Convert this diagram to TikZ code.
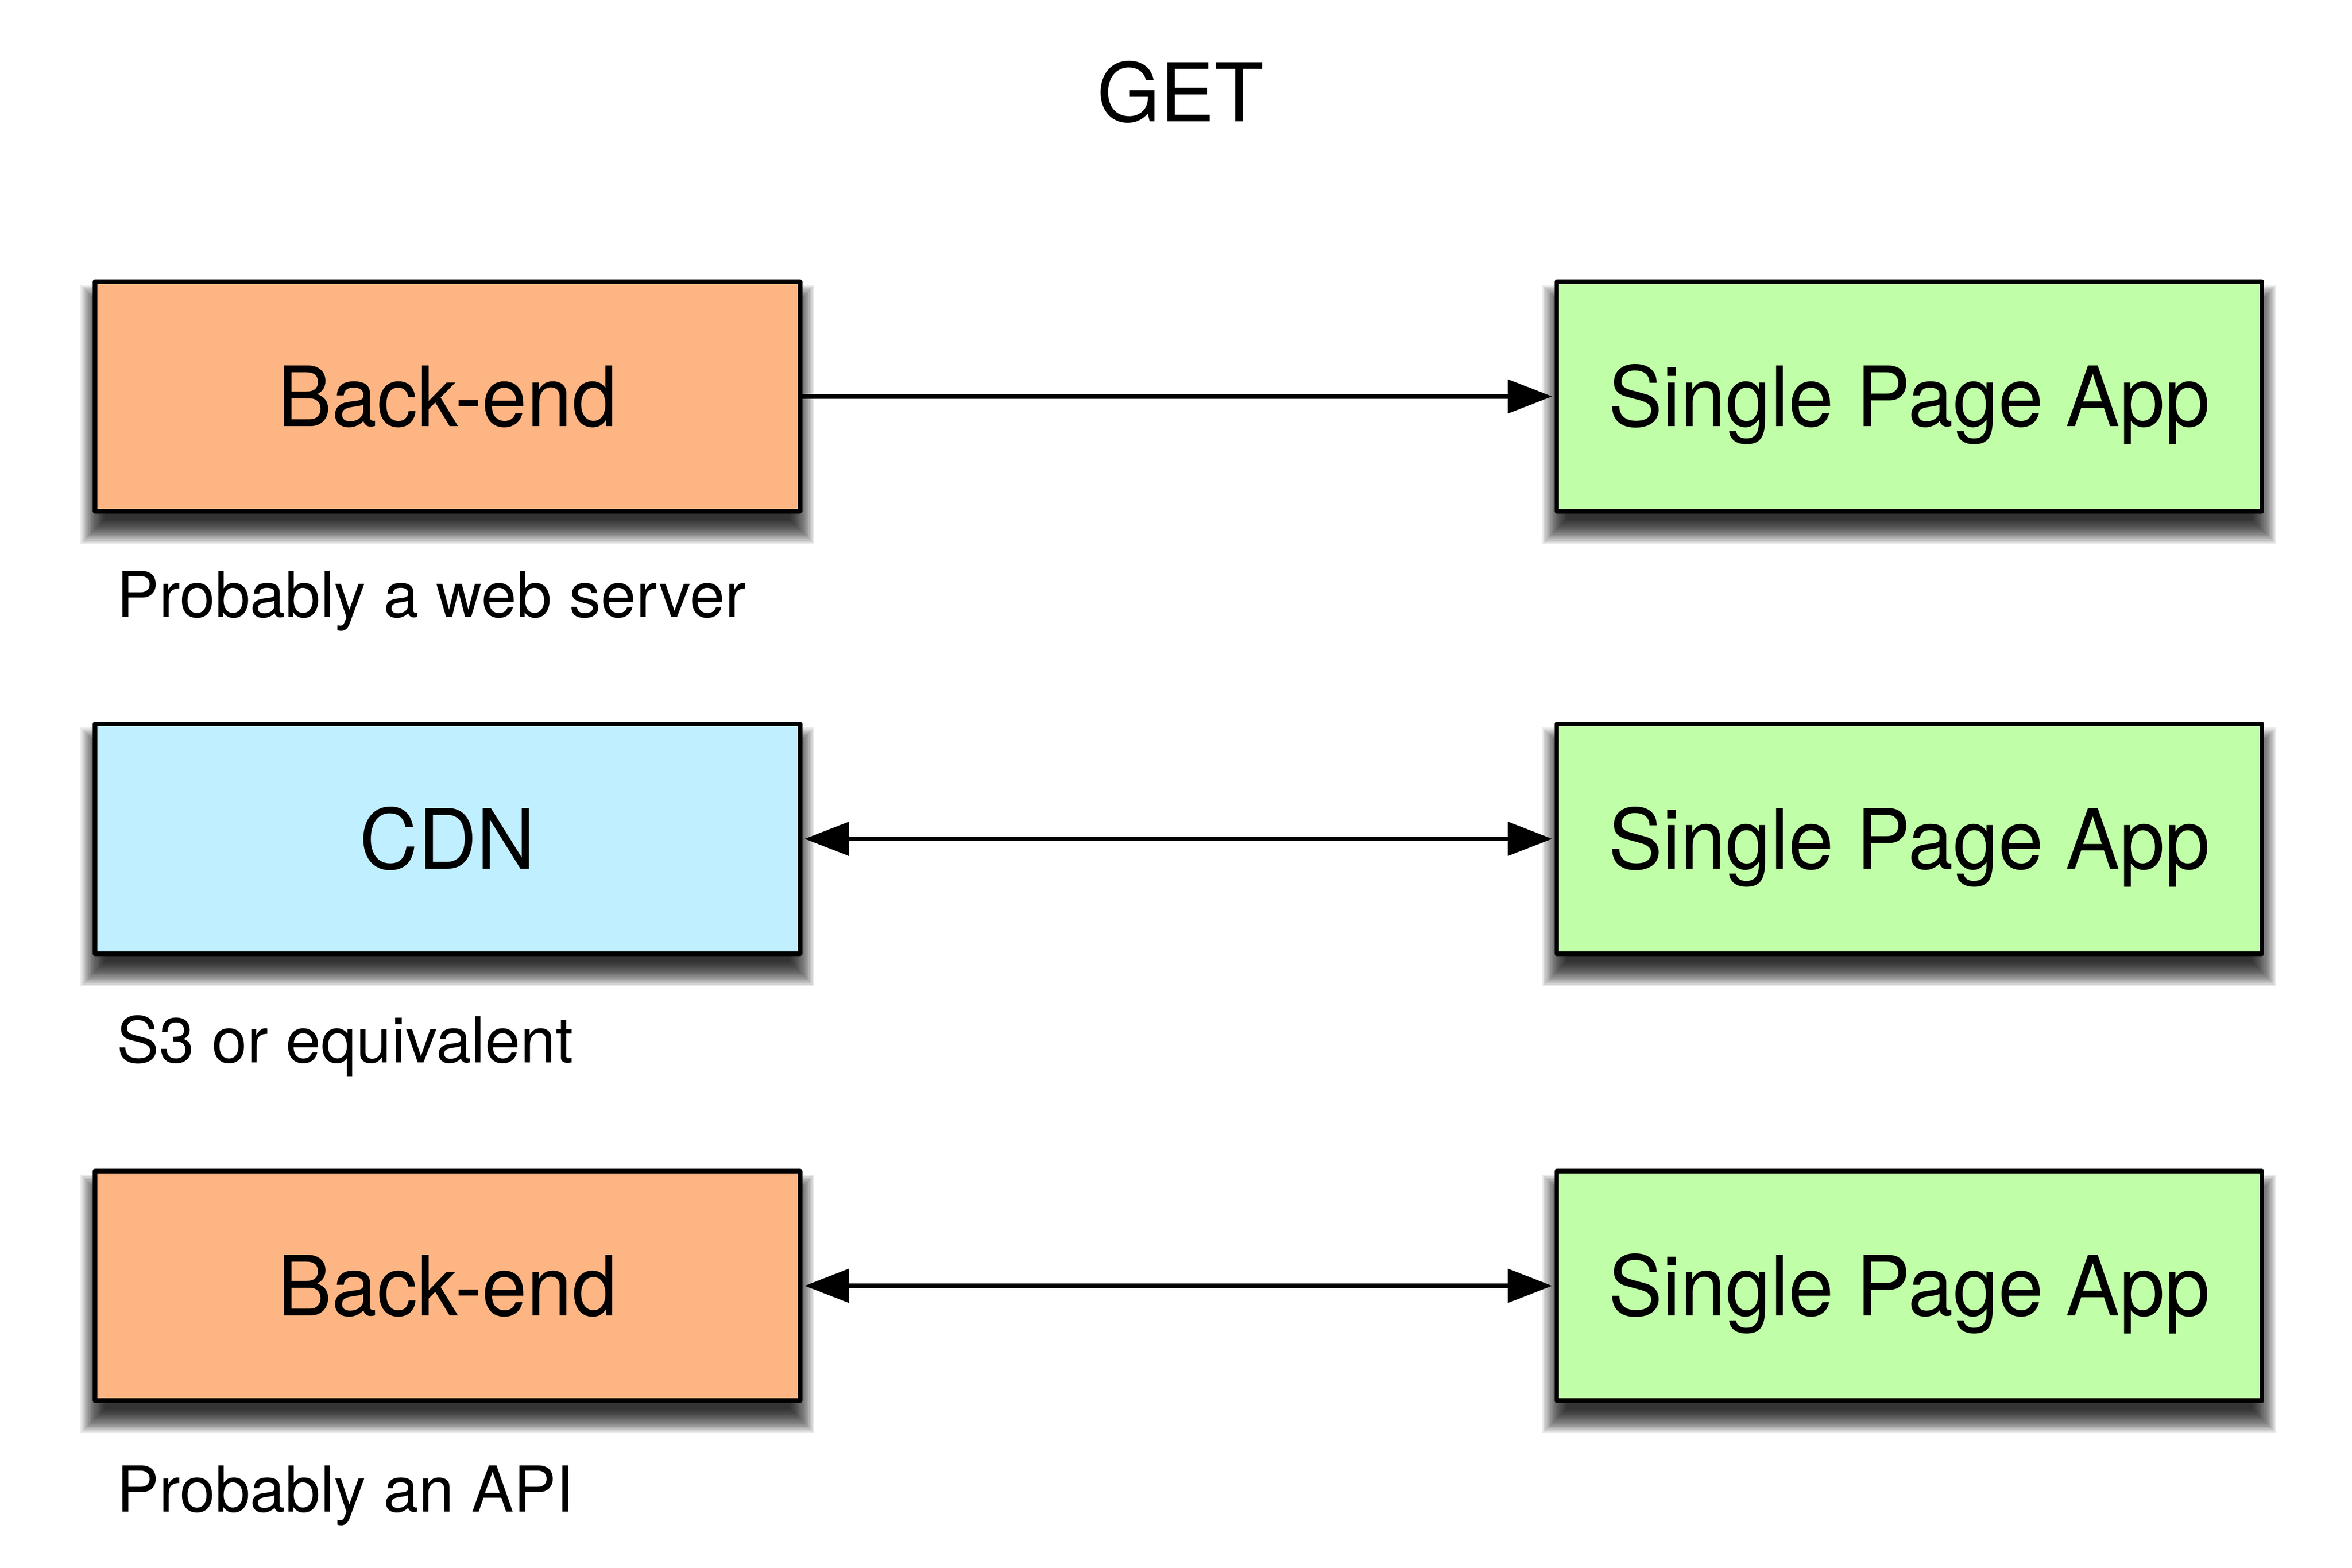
\documentclass[tikz,border=0pt]{standalone}
\usepackage{fontspec}
\setmainfont{TeX Gyre Heros}
\newfontfamily\boxfont{TeX Gyre Heros}[FakeStretch=0.975]
\usetikzlibrary{arrows.meta,backgrounds}
\definecolor{beorange}{RGB}{253,182,131}
\definecolor{cdnblue}{RGB}{192,240,255}
\definecolor{spagreen}{RGB}{192,255,167}
\newcommand\boxshadow[1]{%
  \foreach \k in {-8,-7,...,8} {%
    \fill[black, opacity=0.085]
      ([xshift={-(\k)*0.02cm}, yshift={-12*0.02cm-(\k)*0.02cm}]#1.south west)
      rectangle
      ([xshift={(\k)*0.02cm}, yshift={-12*0.02cm+(\k)*0.02cm}]#1.north east);
  }%
}
\begin{document}
\begin{tikzpicture}[x=0.02cm,y=-0.02cm,
  blockbox/.style={draw=black, line width=0.06cm, line join=round,
    minimum width=9.356cm, minimum height=3.048cm, inner sep=0pt,
    font=\boxfont\fontsize{31.4}{38}\selectfont, text height=22.5pt, text depth=0pt},
  captiontext/.style={anchor=base west, inner sep=0pt, font=\fontsize{23.9}{29}\selectfont},
  titletext/.style={anchor=base, inner sep=0pt, font=\fontsize{30.6}{37}\selectfont},
  conn/.style={line width=0.06cm, -{Triangle[length=0.59cm,width=0.44cm]}, shorten >=0.03cm},
  biconn/.style={line width=0.06cm, {Triangle[length=0.59cm,width=0.44cm]}-{Triangle[length=0.59cm,width=0.44cm]},
    shorten <=0.03cm, shorten >=0.03cm}]
\useasboundingbox (0,0) rectangle (1560,1040);

\node[titletext] (title) at (783,80.7) {GET};

\node[blockbox, fill=beorange] (be1) at (296.8,263) {Back-end};
\node[blockbox, fill=spagreen] (spa1) at (1266.4,263) {Single Page App};
\node[captiontext] (cap1) at (77.1,409.4) {Probably a web server};

\node[blockbox, fill=cdnblue] (cdn) at (296.8,556.5) {CDN};
\node[blockbox, fill=spagreen] (spa2) at (1266.4,556.5) {Single Page App};
\node[captiontext] (cap2) at (77.1,705) {S3 or equivalent};

\node[blockbox, fill=beorange] (be2) at (296.8,853) {Back-end};
\node[blockbox, fill=spagreen] (spa3) at (1266.4,853) {Single Page App};
\node[captiontext] (cap3) at (77.1,1002.8) {Probably an API};

\begin{scope}[on background layer]
  \fill[white] (0,0) rectangle (1560,1040);
  \boxshadow{be1}\boxshadow{spa1}
  \boxshadow{cdn}\boxshadow{spa2}
  \boxshadow{be2}\boxshadow{spa3}
\end{scope}

\draw[conn] (be1.east) -- (spa1.west);
\draw[biconn] (cdn.east) -- (spa2.west);
\draw[biconn] (be2.east) -- (spa3.west);
\end{tikzpicture}
\end{document}
